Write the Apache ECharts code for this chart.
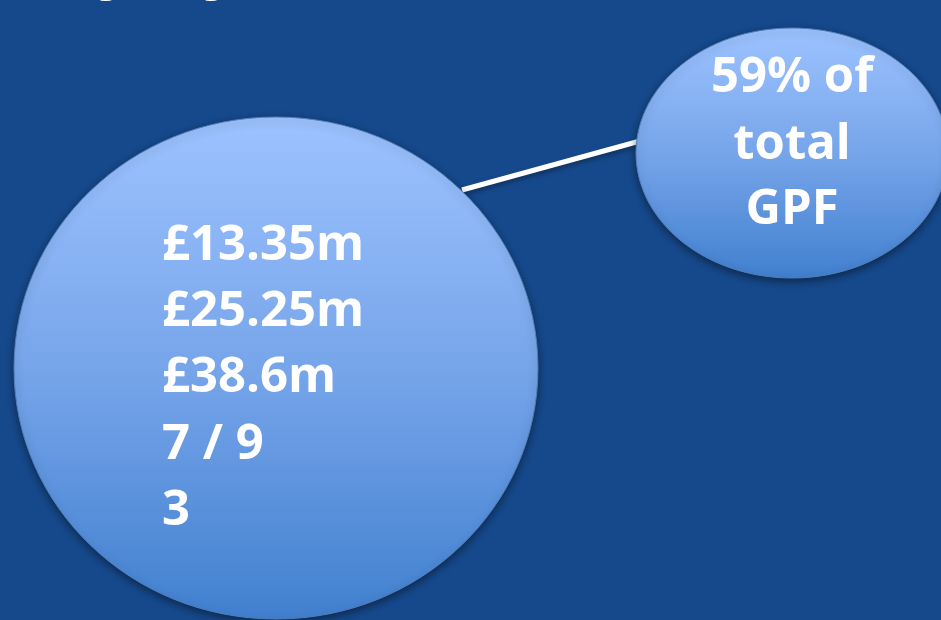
<!DOCTYPE html>
<html>
<head>
<meta charset="utf-8">
<script src="https://cdn.jsdelivr.net/npm/echarts@6/dist/echarts.min.js"></script>
<style>
  html, body { margin: 0; padding: 0; background: #16498c; }
  #chart { width: 941px; height: 620px; }
</style>
</head>
<body>
<div id="chart"></div>
<script>
// slide title, only its descenders show at the top edge
var titleText = 'Delivery by numbers'
// figures inside the big bubble
var bigLines = ['£13.35m', '£25.25m', '£38.6m', '7 / 9', '3']
// callout bubble
var smallLines = ['59% of', 'total', 'GPF']

var bubbleFill = {
  type: 'linear', x: 0, y: 0, x2: 0, y2: 1,
  colorStops: [
    { offset: 0, color: '#9dc3ff' },
    { offset: 0.5, color: '#77a5ea' },
    { offset: 1, color: '#4180cf' }
  ]
}
var bubbleStyle = {
  fill: bubbleFill,
  stroke: '#4f7fbd',
  lineWidth: 1,
  shadowBlur: 8,
  shadowOffsetY: 3,
  shadowColor: 'rgba(0,0,0,0.45)'
}
var font = 'bold 49px "Open Sans"'

var chart = echarts.init(document.getElementById('chart'))

var elements = []

elements.push({
  type: 'text',
  x: -158, y: -37,
  style: {
    text: titleText,
    font: 'bold 72px "Open Sans"',
    fill: '#ffffff',
    align: 'left',
    verticalAlign: 'middle'
  }
})

elements.push({
  type: 'line',
  shape: { x1: 462, y1: 190, x2: 640, y2: 141 },
  style: {
    stroke: '#ffffff',
    lineWidth: 5,
    shadowBlur: 5,
    shadowOffsetY: 3,
    shadowColor: 'rgba(0,0,0,0.35)'
  }
})

elements.push({
  type: 'ellipse',
  shape: { cx: 276, cy: 368, rx: 262, ry: 251 },
  style: bubbleStyle
})

elements.push({
  type: 'ellipse',
  shape: { cx: 792, cy: 153, rx: 156, ry: 125 },
  style: bubbleStyle
})

var bigBaselines = [263, 329, 395, 462, 528]
bigLines.forEach(function (t, i) {
  elements.push({
    type: 'text',
    x: 162,
    y: bigBaselines[i] - 17,
    style: { text: t, font: font, fill: '#ffffff', align: 'left', verticalAlign: 'middle' }
  })
})

var smallBaselines = [95, 162, 227]
smallLines.forEach(function (t, i) {
  elements.push({
    type: 'text',
    x: 792,
    y: smallBaselines[i] - 17,
    style: { text: t, font: font, fill: '#ffffff', align: 'center', verticalAlign: 'middle' }
  })
})

chart.setOption({
  backgroundColor: '#16498c',
  animation: false,
  graphic: { elements: elements }
})
</script>
</body>
</html>
